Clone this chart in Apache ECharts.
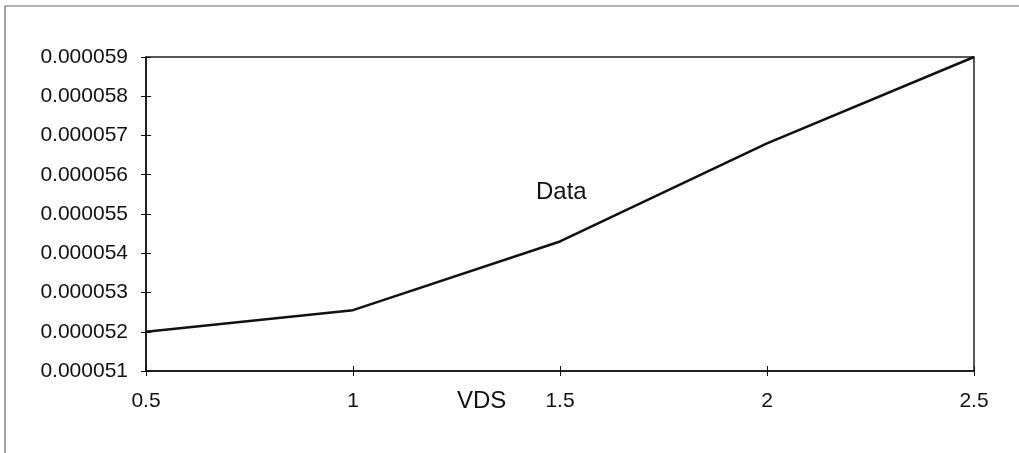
<!DOCTYPE html>
<html>
<head>
<meta charset="utf-8">
<script src="https://cdn.jsdelivr.net/npm/echarts@6/dist/echarts.min.js"></script>
<style>
  html, body { margin: 0; padding: 0; background: #fff; }
  #chart { width: 1019px; height: 453px; }
</style>
</head>
<body>
<div id="chart"></div>
<script>
// Drain current versus VDS
const vds = [0.5, 1, 1.5, 2, 2.5];
const current = [0.0000520, 0.00005255, 0.0000543, 0.0000568, 0.0000590];
const seriesName = 'Data';
const xAxisName = 'VDS';

const yMin = 0.000051, yMax = 0.000059, yStep = 0.000001;
const xMin = 0.5, xMax = 2.5, xStep = 0.5;

const FONT = '"Liberation Sans", Arial, sans-serif';
const ink = '#111';

const chart = echarts.init(document.getElementById('chart'), null, { renderer: 'canvas' });

const yFormatter = v => v.toFixed(6);

chart.setOption({
  backgroundColor: '#fff',
  animation: false,
  grid: {
    left: 146, right: 45, top: 57, bottom: 82,
    show: true, borderColor: '#222', borderWidth: 1.5, backgroundColor: 'transparent'
  },
  xAxis: [{
    type: 'value', min: xMin, max: xMax, interval: xStep,
    axisLine: { show: true, onZero: false, lineStyle: { color: ink, width: 1.5 } },
    axisTick: { show: true, length: 5, lineStyle: { color: ink, width: 1 } },
    axisLabel: { fontFamily: FONT, fontSize: 21, color: ink, margin: 20, formatter: v => String(v) },
    splitLine: { show: false }
  }, {
    // inner half of the crossing ticks
    type: 'value', min: xMin, max: xMax, interval: xStep, position: 'bottom',
    axisLine: { show: false, onZero: false },
    axisTick: { show: true, inside: true, length: 5, lineStyle: { color: ink, width: 1 } },
    axisLabel: { show: false }, splitLine: { show: false }
  }],
  yAxis: [{
    type: 'value', min: yMin, max: yMax, interval: yStep,
    axisLine: { show: true, onZero: false, lineStyle: { color: ink, width: 1.5 } },
    axisTick: { show: true, length: 5, lineStyle: { color: ink, width: 1 } },
    axisLabel: { fontFamily: FONT, fontSize: 21, color: ink, margin: 18, formatter: yFormatter },
    splitLine: { show: false }
  }, {
    type: 'value', min: yMin, max: yMax, interval: yStep, position: 'left',
    axisLine: { show: false, onZero: false },
    axisTick: { show: true, inside: true, length: 5, lineStyle: { color: ink, width: 1 } },
    axisLabel: { show: false }, splitLine: { show: false }
  }],
  series: [{
    name: seriesName,
    type: 'line',
    xAxisIndex: 0, yAxisIndex: 0,
    data: vds.map((x, i) => [x, current[i]]),
    showSymbol: false,
    lineStyle: { color: ink, width: 2.5 },
    z: 3
  }],
  graphic: [
    {
      // series caption inside the plot
      type: 'text', left: 536, top: 180,
      style: { text: seriesName, font: '24px ' + FONT, fill: ink }
    },
    {
      // x axis title, on the tick label line
      type: 'text', left: 457, top: 389,
      style: { text: xAxisName, font: '24px ' + FONT, fill: ink }
    },
    {
      type: 'polyline', silent: true,
      shape: { points: [[5, 453], [5, 6], [1019, 6]] },
      style: { stroke: '#666', lineWidth: 1.2, fill: null }
    }
  ]
});
</script>
</body>
</html>
